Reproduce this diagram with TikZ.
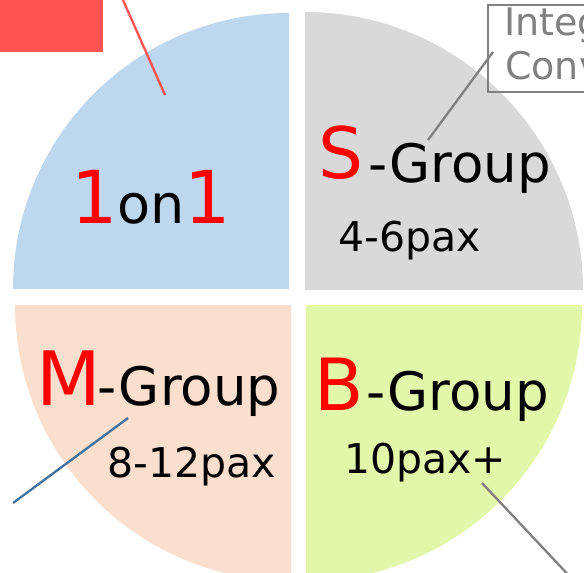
\documentclass[tikz,border=0pt]{standalone}
\usepackage{fontspec}
\setmainfont{DejaVu Sans}
\usetikzlibrary{positioning}
\definecolor{qblue}{HTML}{BDD7EE}
\definecolor{qgray}{HTML}{D9D9D9}
\definecolor{qpeach}{RGB}{250,223,207}
\definecolor{qgreen}{RGB}{226,247,170}
\definecolor{tred}{RGB}{255,0,0}
\definecolor{lred}{RGB}{255,82,82}
\definecolor{lgray}{RGB}{128,128,128}
\definecolor{lblue}{RGB}{65,113,156}
\tikzstyle{lbl} = [inner sep=0pt, anchor=base west, text=black]
\tikzstyle{note} = [inner sep=0pt, anchor=base west, text=lgray, font=\fontsize{38}{38}\selectfont]
\tikzstyle{conn} = [draw, line width=2.3pt]
\newcommand{\bigred}[2]{{\fontsize{#1}{#1}\selectfont\textcolor{tred}{#2}}}
\newcommand{\grp}[1]{{\fontsize{53}{53}\selectfont #1}}
\newcommand{\pax}[1]{{\fontsize{41}{41}\selectfont #1}}

\begin{document}
\begin{tikzpicture}[x=1pt, y=-1pt]
\clip (0,0) rectangle (584,573);

% quarters ===============================
\fill[qblue] (289,289) -- ++(-276,0) arc[start angle=180, end angle=270, radius=276] -- cycle;
\fill[qgray] (305,290) -- ++(0,-278) arc[start angle=270, end angle=360, radius=278] -- cycle;
\fill[qpeach] (291,305) -- ++(-276,0) arc[start angle=180, end angle=90, radius=276] -- cycle;
\fill[qgreen] (306,305) -- ++(276,0) arc[start angle=0, end angle=90, radius=276] -- cycle;

% labels
\node[lbl] (oneonone) at (71,223) {\bigred{73}{1}{\fontsize{54}{54}\selectfont on}\bigred{73}{1}};
\node[lbl] (sgroup) at (318,182) {\raisebox{4pt}{\bigred{71}{S}}\kern5pt\grp{-Group}};
\node[lbl] (spax) at (338,251) {\pax{4-6pax}};
\node[lbl] (mgroup) at (36,405) {\bigred{75}{M}\kern-3pt\grp{-Group}};
\node[lbl] (mpax) at (107,477) {\pax{8-12pax}};
\node[lbl] (bgroup) at (314,410) {\bigred{72}{B}\kern3pt\grp{-Group}};
\node[lbl] (bpax) at (344,473) {\pax{10pax+}};

% callouts
\node[fill=lred, inner sep=0pt, minimum width=108pt, minimum height=57pt, anchor=north west] (redbox) at (-5,-5) {};
\node[draw=lgray, line width=2pt, inner sep=0pt, minimum width=140pt, minimum height=87pt, anchor=north west] (infobox) at (487,4) {};
\node[note] (noteone) at (504,35) {Integ};
\node[note] (notetwo) at (505,79) {Conv};
\node[lbl, font=\fontsize{60}{60}\selectfont] (rightone) at (579,155) {1};

\coordinate (redtop) at (123,0);
\coordinate (redtip) at (165,95);
\coordinate (stop) at (493,52);
\coordinate (sfoot) at (428,140);
\coordinate (mtip) at (128,418);
\coordinate (mend) at (13,503);
\coordinate (btip) at (482,483);
\coordinate (bend) at (575,582);

%edges
\path[conn, draw=lred, line width=2.3pt] (redtop) -- (redtip);
\path[conn, draw=lgray] (stop) -- (sfoot);
\path[conn, draw=lblue] (mtip) -- (mend);
\path[conn, draw=lgray] (btip) -- (bend);

\end{tikzpicture}
\end{document}
